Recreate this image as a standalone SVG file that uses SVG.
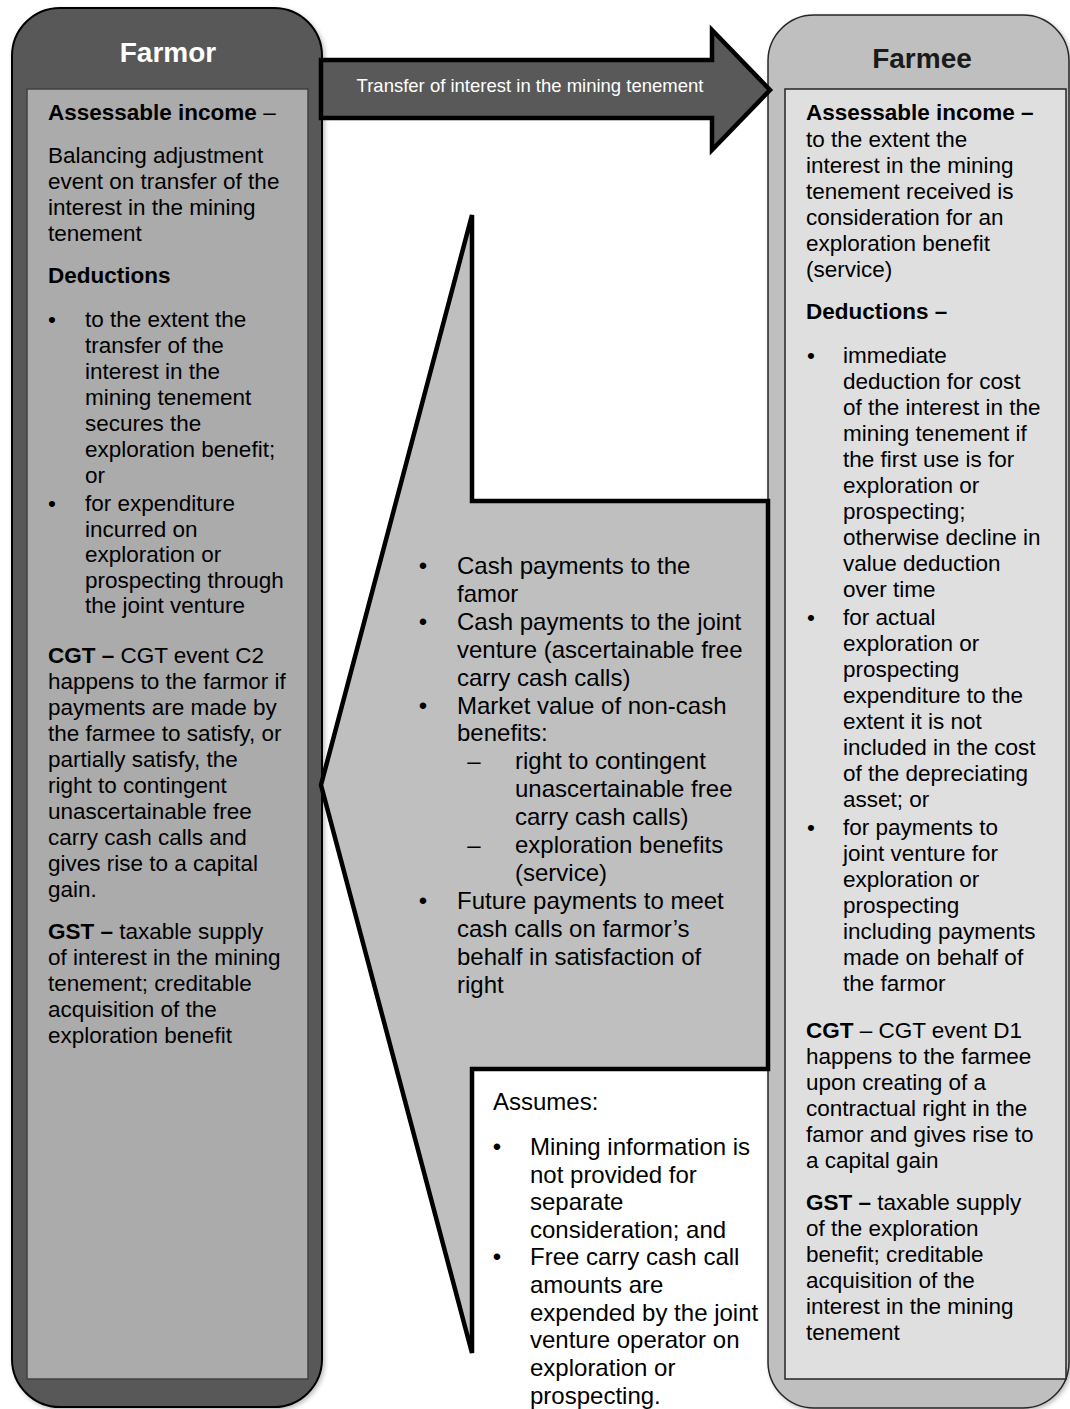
<svg xmlns="http://www.w3.org/2000/svg" width="1070" height="1409" viewBox="0 0 1070 1409">
<style>
text{font-family:"Liberation Sans",Arial,sans-serif;font-size:22.5px;fill:#000}
.c{font-size:24px}
.b{font-weight:bold}
.title{font-size:28px;font-weight:bold;text-anchor:middle}
.bul{text-anchor:middle}
.outerL{fill:#595959;stroke:#000;stroke-width:2}
.outerR{fill:#bfbfbf;stroke:#262626;stroke-width:1.5}
.innerL{fill:#ababab;stroke:#404040;stroke-width:1.5}
.innerR{fill:#dfdfdf;stroke:#262626;stroke-width:1.5}
.heavy{stroke:#000;stroke-width:4.5;stroke-linejoin:miter}
</style>
<defs>
<filter id="sh" x="-5%" y="-5%" width="115%" height="110%">
<feDropShadow dx="2" dy="2" stdDeviation="2" flood-color="#000" flood-opacity="0.25"/>
</filter>
</defs>
<rect width="1070" height="1409" fill="#fff"/>

<g id="farmee">
<rect class="outerR" x="768" y="15" width="301" height="1393" rx="46" filter="url(#sh)"/>
<rect class="innerR" x="785" y="89" width="281" height="1290"/>
<text class="title" x="922" y="68" style="fill:#1a1a1a">Farmee</text>
<text x="806" y="120" class="b">Assessable income –</text>
<text x="806" y="147">to the extent the<tspan x="806" dy="26">interest in the mining</tspan><tspan x="806" dy="26">tenement received is</tspan><tspan x="806" dy="26">consideration for an</tspan><tspan x="806" dy="26">exploration benefit</tspan><tspan x="806" dy="26">(service)</tspan></text>
<text x="806" y="319" class="b">Deductions –</text>
<text class="bul" x="811" y="363">•</text>
<text x="843" y="363">immediate<tspan x="843" dy="26">deduction for cost</tspan><tspan x="843" dy="26">of the interest in the</tspan><tspan x="843" dy="26">mining tenement if</tspan><tspan x="843" dy="26">the first use is for</tspan><tspan x="843" dy="26">exploration or</tspan><tspan x="843" dy="26">prospecting;</tspan><tspan x="843" dy="26">otherwise decline in</tspan><tspan x="843" dy="26">value deduction</tspan><tspan x="843" dy="26">over time</tspan></text>
<text class="bul" x="811" y="625">•</text>
<text x="843" y="625">for actual<tspan x="843" dy="26">exploration or</tspan><tspan x="843" dy="26">prospecting</tspan><tspan x="843" dy="26">expenditure to the</tspan><tspan x="843" dy="26">extent it is not</tspan><tspan x="843" dy="26">included in the cost</tspan><tspan x="843" dy="26">of the depreciating</tspan><tspan x="843" dy="26">asset; or</tspan></text>
<text class="bul" x="811" y="835">•</text>
<text x="843" y="835">for payments to<tspan x="843" dy="26">joint venture for</tspan><tspan x="843" dy="26">exploration or</tspan><tspan x="843" dy="26">prospecting</tspan><tspan x="843" dy="26">including payments</tspan><tspan x="843" dy="26">made on behalf of</tspan><tspan x="843" dy="26">the farmor</tspan></text>
<text x="806" y="1038"><tspan class="b">CGT</tspan> – CGT event D1<tspan x="806" dy="26">happens to the farmee</tspan><tspan x="806" dy="26">upon creating of a</tspan><tspan x="806" dy="26">contractual right in the</tspan><tspan x="806" dy="26">famor and gives rise to</tspan><tspan x="806" dy="26">a capital gain</tspan></text>
<text x="806" y="1210"><tspan class="b">GST –</tspan> taxable supply<tspan x="806" dy="26">of the exploration</tspan><tspan x="806" dy="26">benefit; creditable</tspan><tspan x="806" dy="26">acquisition of the</tspan><tspan x="806" dy="26">interest in the mining</tspan><tspan x="806" dy="26">tenement</tspan></text>
</g>

<g id="farmor">
<rect class="outerL" x="12" y="8" width="310" height="1399" rx="48" filter="url(#sh)"/>
<rect class="innerL" x="27" y="89" width="281" height="1290"/>
<text class="title" x="168" y="62" style="fill:#fff">Farmor</text>
<text x="48" y="120"><tspan class="b">Assessable income</tspan> –</text>
<text x="48" y="163">Balancing adjustment<tspan x="48" dy="26">event on transfer of the</tspan><tspan x="48" dy="26">interest in the mining</tspan><tspan x="48" dy="26">tenement</tspan></text>
<text x="48" y="283" class="b">Deductions</text>
<text class="bul" x="52" y="327">•</text>
<text x="85" y="327">to the extent the<tspan x="85" dy="26">transfer of the</tspan><tspan x="85" dy="26">interest in the</tspan><tspan x="85" dy="26">mining tenement</tspan><tspan x="85" dy="26">secures the</tspan><tspan x="85" dy="26">exploration benefit;</tspan><tspan x="85" dy="26">or</tspan></text>
<text class="bul" x="52" y="511">•</text>
<text x="85" y="511">for expenditure<tspan x="85" dy="25.6">incurred on</tspan><tspan x="85" dy="25.6">exploration or</tspan><tspan x="85" dy="25.6">prospecting through</tspan><tspan x="85" dy="25.6">the joint venture</tspan></text>
<text x="48" y="663"><tspan class="b">CGT –</tspan> CGT event C2<tspan x="48" dy="26">happens to the farmor if</tspan><tspan x="48" dy="26">payments are made by</tspan><tspan x="48" dy="26">the farmee to satisfy, or</tspan><tspan x="48" dy="26">partially satisfy, the</tspan><tspan x="48" dy="26">right to contingent</tspan><tspan x="48" dy="26">unascertainable free</tspan><tspan x="48" dy="26">carry cash calls and</tspan><tspan x="48" dy="26">gives rise to a capital</tspan><tspan x="48" dy="26">gain.</tspan></text>
<text x="48" y="939"><tspan class="b">GST –</tspan> taxable supply<tspan x="48" dy="26">of interest in the mining</tspan><tspan x="48" dy="26">tenement; creditable</tspan><tspan x="48" dy="26">acquisition of the</tspan><tspan x="48" dy="26">exploration benefit</tspan></text>
</g>

<g id="consideration">
<polygon class="heavy" fill="#bfbfbf" points="472,215 472,501 768,501 768,1069 472,1069 472,1353 321,785"/>
<text class="c bul" x="423" y="574">•</text>
<text class="c" x="457" y="574">Cash payments to the<tspan x="457" dy="27.9">famor</tspan></text>
<text class="c bul" x="423" y="630">•</text>
<text class="c" x="457" y="630">Cash payments to the joint<tspan x="457" dy="27.9">venture (ascertainable free</tspan><tspan x="457" dy="27.9">carry cash calls)</tspan></text>
<text class="c bul" x="423" y="713.5">•</text>
<text class="c" x="457" y="713.5">Market value of non-cash<tspan x="457" dy="27.9">benefits:</tspan></text>
<text class="c bul" x="474" y="769.3">–</text>
<text class="c" x="515" y="769.3">right to contingent<tspan x="515" dy="27.9">unascertainable free</tspan><tspan x="515" dy="27.9">carry cash calls)</tspan></text>
<text class="c bul" x="474" y="853">–</text>
<text class="c" x="515" y="853">exploration benefits<tspan x="515" dy="27.9">(service)</tspan></text>
<text class="c bul" x="423" y="909">•</text>
<text class="c" x="457" y="909">Future payments to meet<tspan x="457" dy="27.9">cash calls on farmor’s</tspan><tspan x="457" dy="27.9">behalf in satisfaction of</tspan><tspan x="457" dy="27.9">right</tspan></text>
</g>

<g id="assumptions">
<text class="c" x="493" y="1110">Assumes:</text>
<text class="c bul" x="497" y="1155">•</text>
<text class="c" x="530" y="1155">Mining information is<tspan x="530" dy="27.5">not provided for</tspan><tspan x="530" dy="27.5">separate</tspan><tspan x="530" dy="27.5">consideration; and</tspan></text>
<text class="c bul" x="497" y="1265">•</text>
<text class="c" x="530" y="1265">Free carry cash call<tspan x="530" dy="27.8">amounts are</tspan><tspan x="530" dy="27.8">expended by the joint</tspan><tspan x="530" dy="27.8">venture operator on</tspan><tspan x="530" dy="27.8">exploration or</tspan><tspan x="530" dy="27.8">prospecting.</tspan></text>
</g>

<g id="connectors">
<polygon class="heavy" fill="#595959" points="321,60 712,60 712,30 770,90 712,150 712,118 321,118"/>
<text x="530" y="92" text-anchor="middle" style="fill:#fff;font-size:18.5px">Transfer of interest in the mining tenement</text>
</g>
</svg>
